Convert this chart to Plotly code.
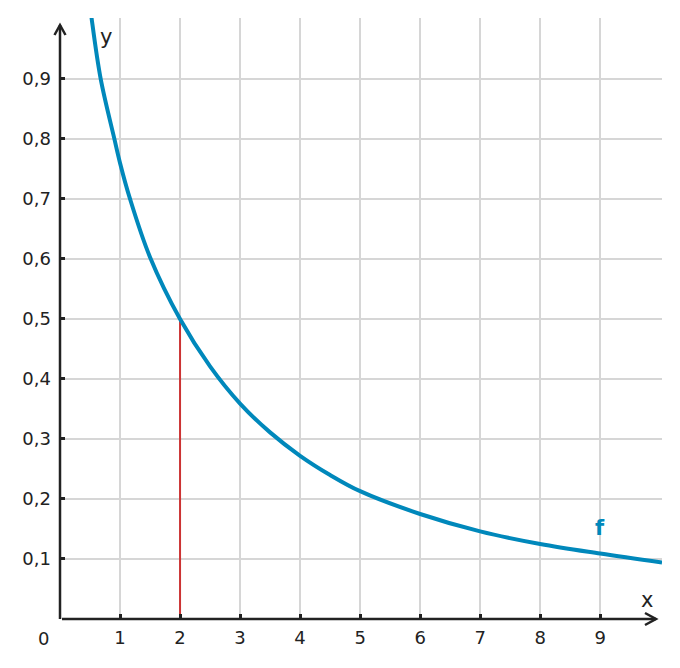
import plotly.graph_objects as go

# values
curve_x = [0.48, 0.528, 0.678, 0.906, 1.0, 1.167, 1.5, 2.0, 2.5, 3.0, 3.5, 4.0, 4.5,
           5.0, 6.0, 7.0, 8.0, 9.0, 10.03]
curve_y = [1.04, 1.0, 0.9, 0.8, 0.76, 0.7, 0.603, 0.5, 0.421, 0.359, 0.311, 0.272, 0.240,
           0.213, 0.175, 0.146, 0.125, 0.109, 0.094]
mark_x = [2, 2]
mark_y = [0, 0.5]

x_ticks = [1, 2, 3, 4, 5, 6, 7, 8, 9]
y_ticks = [0.1, 0.2, 0.3, 0.4, 0.5, 0.6, 0.7, 0.8, 0.9]
y_labels = ['0,1', '0,2', '0,3', '0,4', '0,5', '0,6', '0,7', '0,8', '0,9']

BLUE = '#0088bb'
RED = '#cc3333'
AXIS = '#222222'
GRID = '#d6d6d6'
FONT = 'DejaVu Sans'

fig = go.Figure()
fig.add_trace(go.Scatter(x=mark_x, y=mark_y, mode='lines',
                         line=dict(color=RED, width=2), showlegend=False))
fig.add_trace(go.Scatter(x=curve_x, y=curve_y, mode='lines',
                         line=dict(color=BLUE, width=4, shape='spline', smoothing=1),
                         showlegend=False))

# the page has an 8px body margin, so margins are shifted by 8
fig.update_layout(
    width=680, height=668,
    margin=dict(l=52, r=26, t=10, b=57),
    plot_bgcolor='white', paper_bgcolor='white',
    font=dict(family=FONT, size=18, color=AXIS),
    xaxis=dict(range=[0, 10.03], tickvals=x_ticks, showgrid=True, gridcolor=GRID,
               gridwidth=1.8, zeroline=False, showline=False, ticks='inside',
               ticklen=5, tickwidth=2.5, tickcolor=AXIS, ticklabelstandoff=6,
               fixedrange=True),
    yaxis=dict(range=[0, 1.0015], tickvals=y_ticks, ticktext=y_labels,
               showgrid=True, gridcolor=GRID, gridwidth=1.8, zeroline=False,
               showline=False, ticks='inside', ticklen=5, tickwidth=2.5,
               tickcolor=AXIS, ticklabelstandoff=8, fixedrange=True),
)

# axes with arrow heads (paper coords: plot area is 602 x 601 px)
px = lambda v: (v - 60) / 602
py = lambda v: (619 - v) / 601
line = dict(color=AXIS, width=2.5)
fig.add_shape(type='line', xref='paper', yref='paper',
              x0=px(60), y0=py(619), x1=px(60), y1=py(25), line=line)
fig.add_shape(type='line', xref='paper', yref='paper',
              x0=px(62), y0=py(619), x1=px(656), y1=py(619), line=line)
fig.add_shape(type='path', xref='paper', yref='paper', line=line,
              path=f'M {px(645)} {py(613)} L {px(656)} {py(619)} L {px(645)} {py(625)}')
fig.add_shape(type='path', xref='paper', yref='paper', line=line,
              path=f'M {px(54.5)} {py(35)} L {px(60)} {py(25)} L {px(65.5)} {py(35)}')

label = dict(xref='paper', yref='paper', showarrow=False,
             xanchor='center', yanchor='middle')
fig.add_annotation(x=px(106), y=py(37), text='y', font=dict(size=21, color=AXIS), **label)
fig.add_annotation(x=px(647), y=py(600), text='x', font=dict(size=21, color=AXIS), **label)
fig.add_annotation(x=px(43), y=py(638), text='0', font=dict(size=18, color=AXIS), **label)
fig.add_annotation(x=9.0, y=0.152, text='<b>f</b>', showarrow=False,
                   xanchor='center', yanchor='middle', font=dict(size=21, color=BLUE))

fig.write_html('out.html')
